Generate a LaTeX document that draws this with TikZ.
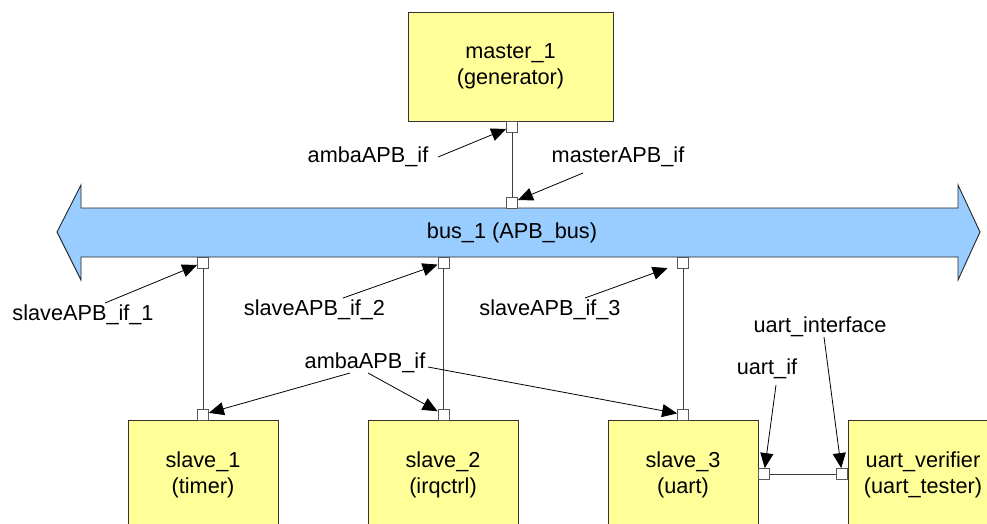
\documentclass[tikz,border=0pt]{standalone}
\usepackage{fontspec}
\setmainfont{Liberation Sans}
\usetikzlibrary{arrows.meta}
\definecolor{boxyellow}{HTML}{FFFF99}
\definecolor{busblue}{HTML}{99CCFF}
\begin{document}
\begin{tikzpicture}[x=1pt,y=-1pt,
  every node/.style={font=\fontsize{21.7}{26}\selectfont},
  block/.style={draw=black!80, fill=boxyellow, line width=0.9pt, minimum width=150pt, minimum height=108pt, align=center, inner sep=0pt},
  portbox/.style={draw=black!65, fill=white, line width=0.8pt, minimum size=11pt, inner sep=0pt},
  lbl/.style={inner sep=0pt, anchor=center},
  wire/.style={draw=black!75, line width=0.8pt},
  callout/.style={draw=black, line width=0.8pt, -{Triangle[length=15pt,width=13pt]}}]
\clip (0,0) rectangle (987,523);
\fill[white] (0,0) rectangle (987,523);

% bus
\filldraw[fill=busblue, draw=black!85, line width=0.9pt]
  (57,232) -- (81,185) -- (81,208) -- (958,208) -- (958,185) -- (980,232)
  -- (958,280) -- (958,257) -- (81,257) -- (81,280) -- cycle;
\node[lbl] (bus) at (512,233) {bus\_1 (APB\_bus)};

% blocks
\node[block, minimum width=205pt, minimum height=109pt] (master) at (510.5,66.5) {master\_1\\(generator)};
\node[block, anchor=north] (slave1) at (203,420) {slave\_1\\(timer)};
\node[block, anchor=north] (slave2) at (443,420) {slave\_2\\(irqctrl)};
\node[block, anchor=north] (slave3) at (683,420) {slave\_3\\(uart)};
\node[block, anchor=north] (uv) at (923,420) {uart\_verifier\\(uart\_tester)};

% ports
\node[portbox] (mport) at (512,126.5) {};
\node[portbox] (bport) at (512,202.5) {};
\node[portbox] (sbp1) at (203,262.5) {};
\node[portbox] (sbp2) at (443.5,262.5) {};
\node[portbox] (sbp3) at (683,262.5) {};
\node[portbox] (sp1) at (203,414.5) {};
\node[portbox] (sp2) at (443.5,414.5) {};
\node[portbox] (sp3) at (683,414.5) {};
\node[portbox] (up1) at (764,474) {};
\node[portbox] (up2) at (842,474) {};

% wires
\draw[wire] (mport) -- (bport);
\draw[wire] (sbp1) -- (sp1);
\draw[wire] (sbp2) -- (sp2);
\draw[wire] (sbp3) -- (sp3);
\draw[wire] (up1) -- (up2);

% labels
\node[lbl] (lA) at (368,157) {ambaAPB\_if};
\node[lbl] (lM) at (618,157) {masterAPB\_if};
\node[lbl] (lS1) at (83,315) {slaveAPB\_if\_1};
\node[lbl] (lS2) at (314.5,310) {slaveAPB\_if\_2};
\node[lbl] (lS3) at (550,310) {slaveAPB\_if\_3};
\node[lbl] (lB) at (365,363) {ambaAPB\_if};
\node[lbl] (lU1) at (767,369) {uart\_if};
\node[lbl] (lU2) at (820,327) {uart\_interface};

% callout start points
\coordinate (cA) at (438,157);
\coordinate (cM) at (583,173);
\coordinate (cS1) at (105,303);
\coordinate (cS2) at (343,298);
\coordinate (cS3) at (585,298);
\coordinate (cB1) at (350,373);
\coordinate (cB2) at (368,373);
\coordinate (cB3) at (428,367);
\coordinate (cU1) at (776,385);
\coordinate (cU2) at (824,337);

% callouts
\draw[callout] (cA) -- (mport);
\draw[callout] (cM) -- (bport);
\draw[callout] (cS1) -- (sbp1);
\draw[callout] (cS2) -- (sbp2);
\draw[callout, shorten >=10pt] (cS3) -- (sbp3);
\draw[callout] (cB1) -- (sp1);
\draw[callout] (cB2) -- (sp2);
\draw[callout] (cB3) -- (sp3);
\draw[callout] (cU1) -- (up1);
\draw[callout] (cU2) -- (up2);
\end{tikzpicture}
\end{document}
